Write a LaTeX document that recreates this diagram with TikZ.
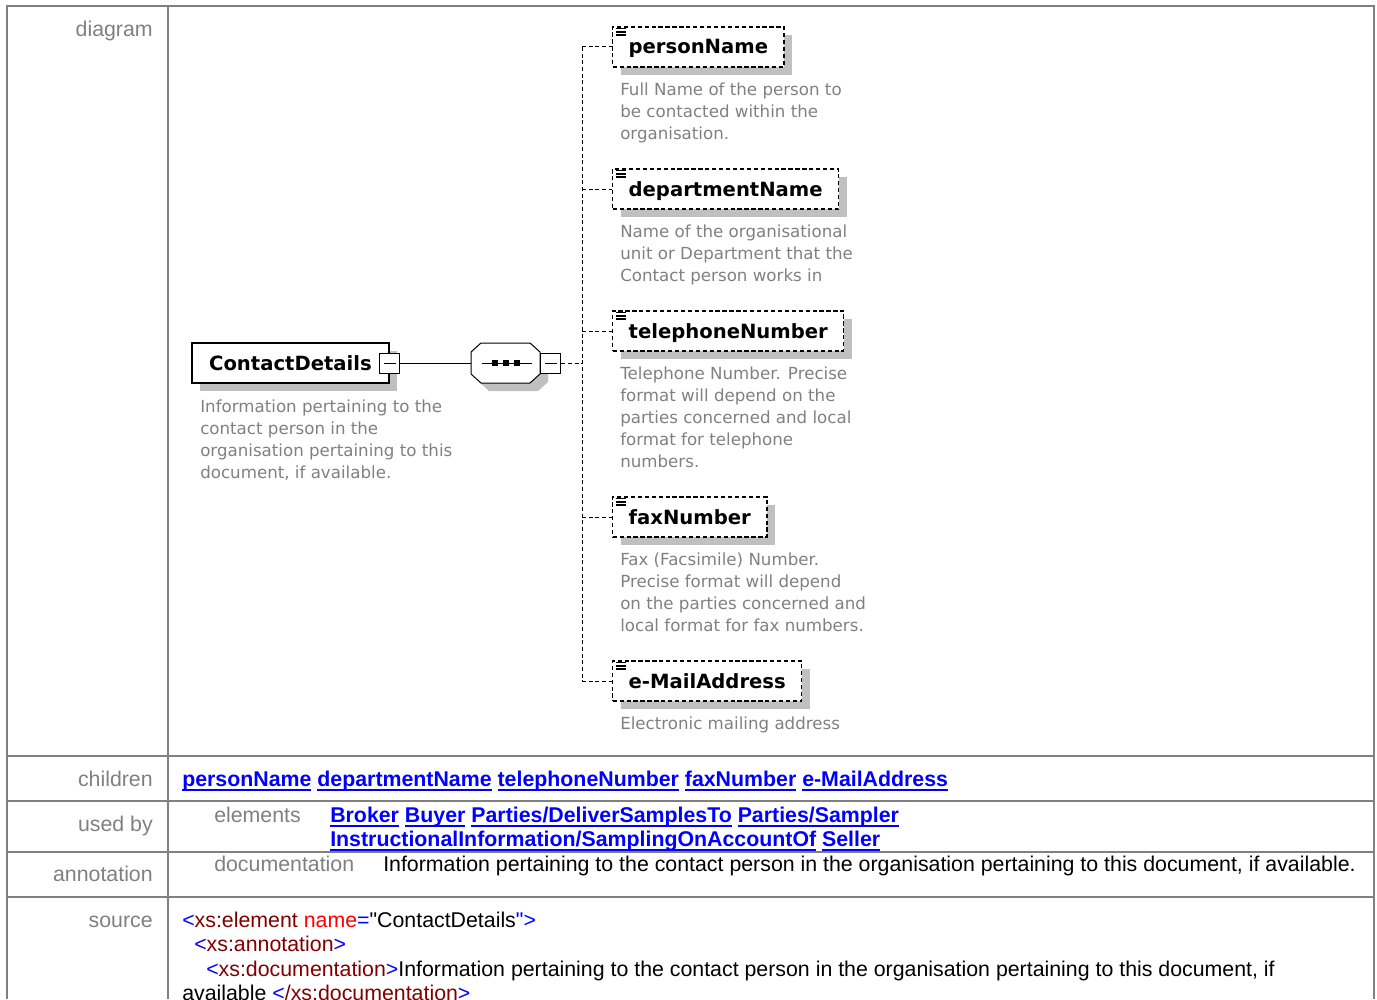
\documentclass[tikz,border=0pt]{standalone}
\usepackage{fontspec}
\setmainfont{Liberation Sans}
\newfontfamily\diagfont{DejaVu Sans}
\usetikzlibrary{shadows}
\definecolor{rulegray}{RGB}{128,128,128}
\definecolor{labelgray}{RGB}{128,128,128}
\definecolor{notegray}{RGB}{128,128,128}
\definecolor{shadowgray}{RGB}{192,192,192}
\definecolor{linkblue}{RGB}{0,0,255}
\definecolor{tagred}{RGB}{128,0,0}
\definecolor{attrred}{RGB}{255,0,0}
\newsavebox\lnkbox
\newcommand\lnk[1]{\sbox\lnkbox{#1}\rlap{\rule[-3.7pt]{\wd\lnkbox}{1.5pt}}\usebox\lnkbox}
\newcommand\tg[1]{\textcolor{linkblue}{<}\textcolor{tagred}{#1}\textcolor{linkblue}{>}}
\newcommand\qt{{\addfontfeature{Ligatures=TeXOff}"}}

\tikzset{
  rule/.style={rulegray,line width=1.5pt},
  tabletext/.style={anchor=base west,inner sep=0pt,font=\fontsize{16}{18}\selectfont},
  rowlabel/.style={tabletext,anchor=base east,text=labelgray},
  links/.style={tabletext,text=linkblue,font=\fontsize{16}{18}\selectfont\bfseries},
  elem/.style={draw,fill=white,line width=1pt,minimum height=30pt,inner xsep=12pt,
    text height=12.5pt,text depth=2pt,font=\diagfont\fontsize{14.7}{18}\selectfont\bfseries,
    general shadow={fill=shadowgray,shadow xshift=6pt,shadow yshift=-6pt}},
  optelem/.style={elem,dash pattern=on 3.2pt off 2pt},
  collapser/.style={draw,fill=white,line width=0.75pt,minimum size=15pt,inner sep=0pt,
    path picture={\draw[line width=0.75pt] ([xshift=3pt]path picture bounding box.west)
      -- ([xshift=-3pt]path picture bounding box.east);}},
  % base anchor of a multi-line note is the baseline of its last line
  note/.style={anchor=base west,align=left,inner sep=0pt,text=notegray,
    font=\diagfont\fontsize{12.5}{16.5}\selectfont},
  conn/.style={line width=0.75pt,dash pattern=on 3pt off 2pt}
}

\begin{document}
\begin{tikzpicture}[x=0.75pt,y=-0.75pt]
  \useasboundingbox (0,0) rectangle (1377,999);
  % table frame
  \draw[rule] (7,999) -- (7,6) -- (1374,6) -- (1374,999);
  \draw[rule] (168,6) -- (168,999);
  \foreach \y in {756,801,852,897}
    \draw[rule] (7,\y) -- (1374,\y);

  % row labels
  \node[rowlabel] (lbldiagram) at (153,37) {diagram};
  \node[rowlabel] (lblchildren) at (153,786) {children};
  \node[rowlabel] (lblusedby) at (153,831) {used by};
  \node[rowlabel] (lblannot) at (153,881) {annotation};
  \node[rowlabel] (lblsource) at (153,927) {source};

  % diagram: root element
  \node[elem,line width=1.2pt,anchor=west,minimum width=148pt] (cd) at (191,363) {ContactDetails};
  \node[collapser] (cdminus) at (cd.east) {};
  \node[note] (cdnote) at (200,478) {Information pertaining to the\\contact person in the\\organisation pertaining to this\\document, if available.};

  % sequence compositor
  \node[minimum width=51.75pt,minimum height=30pt,inner sep=0pt] (seq) at (505.5,363) {};
  \begin{scope}[shift={(seq.center)}]
    \fill[shadowgray,shift={(8,8)}] (-34.5,-11) -- (-24.5,-20) -- (24.5,-20) -- (34.5,-11)
      -- (34.5,11) -- (24.5,20) -- (-24.5,20) -- (-34.5,11) -- cycle;
    \draw[fill=white,line width=0.75pt] (-34.5,-11) -- (-24.5,-20) -- (24.5,-20) -- (34.5,-11)
      -- (34.5,11) -- (24.5,20) -- (-24.5,20) -- (-34.5,11) -- cycle;
    \draw[line width=0.75pt] (-24,0) -- (26,0);
    \foreach \dx in {-11,0,11}
      \fill (\dx-3,-3) rectangle +(6,6);
  \end{scope}
  \node[collapser,anchor=west] (seqminus) at (seq.east) {};
  \draw[line width=0.75pt] (cdminus.east) -- (seq.west);

  % child elements
  \node[optelem,anchor=west] (pn) at (612,47) {personName};
  \node[optelem,anchor=west] (dn) at (612,189) {departmentName};
  \node[optelem,anchor=west] (tn) at (612,331) {telephoneNumber};
  \node[optelem,anchor=west] (fn) at (612,517) {faxNumber};
  \node[optelem,anchor=west] (em) at (612,681) {e-MailAddress};

  \node[note] (pnnote) at (620,139) {Full Name of the person to\\be contacted within the\\organisation.};
  \node[note] (dnnote) at (620,281) {Name of the organisational\\unit or Department that the\\Contact person works in};
  \node[note] (tnnote) at (620,467) {Telephone Number. Precise\\format will depend on the\\parties concerned and local\\format for telephone\\numbers.};
  \node[note] (fnnote) at (620,631) {Fax (Facsimile) Number.\\Precise format will depend\\on the parties concerned and\\local format for fax numbers.};
  \node[note] (emnote) at (620,729) {Electronic mailing address};

  % connectors
  \coordinate (spine) at (582,363);
  \draw[conn] (seqminus.east) -- (spine);
  \draw[conn] (spine |- pn.west) -- (spine |- em.west);
  \foreach \c in {pn,dn,tn,fn,em} {
    \draw[conn] (spine |- \c.west) -- (\c.west);
    \foreach \dy in {1.8,4.2,6.6}
      \draw[line width=1pt] ([shift={(3pt,-\dy pt)}]\c.north west) -- +(7.5pt,0);
  }

  % children row
  \node[links] (childlinks) at (182,786) {\lnk{personName} \lnk{departmentName} \lnk{telephoneNumber} \lnk{faxNumber} \lnk{e-MailAddress}};

  % used by row
  \node[tabletext,text=labelgray] (elemlabel) at (214,822) {elements};
  \node[links,align=left] (usedlinks) at (330,846) {\lnk{Broker} \lnk{Buyer} \lnk{Parties/DeliverSamplesTo} \lnk{Parties/Sampler}\\\lnk{InstructionalInformation/SamplingOnAccountOf} \lnk{Seller}};

  % annotation row
  \node[tabletext,text=labelgray] (doclabel) at (214,871) {documentation};
  \node[tabletext] (doctext) at (383,871) {Information pertaining to the contact person in the organisation pertaining to this document, if available.};

  % source row
  \node[tabletext] (src1) at (182,927) {\textcolor{linkblue}{<}\textcolor{tagred}{xs:element} \textcolor{attrred}{name}\textcolor{linkblue}{=}\qt ContactDetails\textcolor{linkblue}{\qt>}};
  \node[tabletext] (src2) at (194,951) {\tg{xs:annotation}};
  \node[tabletext] (src3) at (206,976) {\tg{xs:documentation}Information pertaining to the contact person in the organisation pertaining to this document, if};
  \node[tabletext] (src4) at (182,1000) {available \tg{/xs:documentation}};
\end{tikzpicture}
\end{document}
